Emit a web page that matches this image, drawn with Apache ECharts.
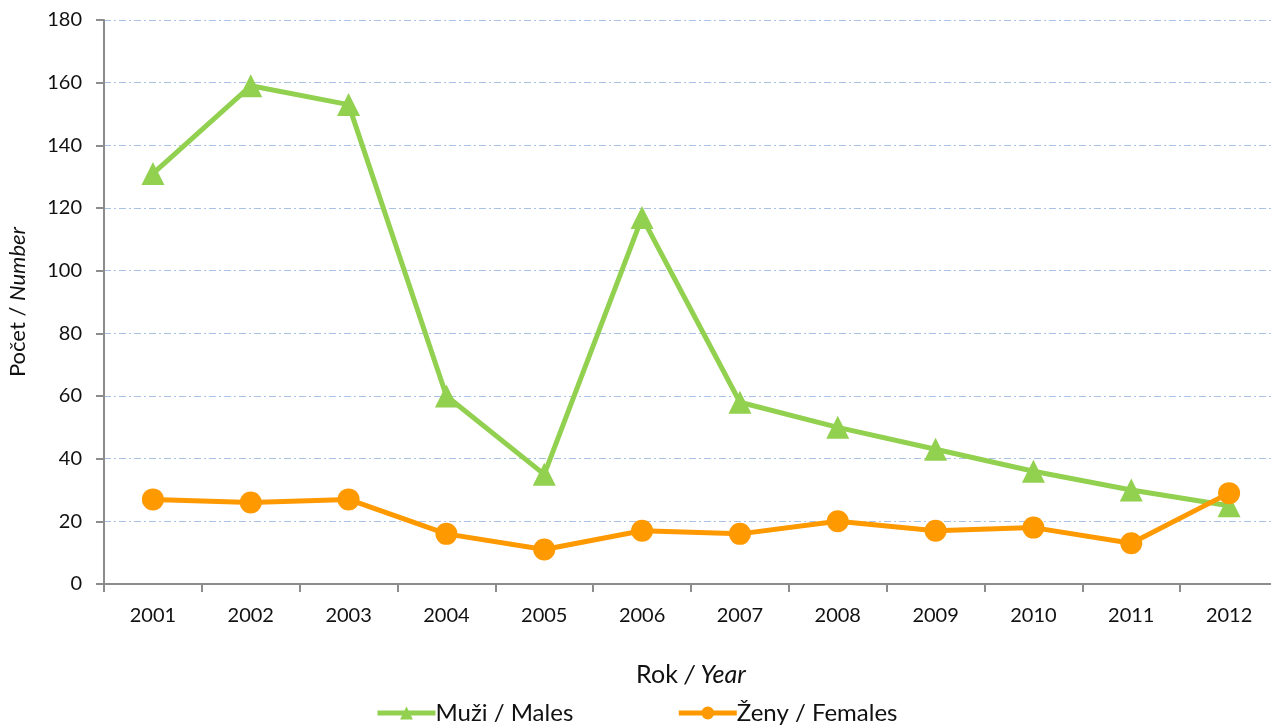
<!DOCTYPE html>
<html>
<head>
<meta charset="utf-8">
<script src="https://cdn.jsdelivr.net/npm/echarts@6/dist/echarts.min.js"></script>
<style>
  html, body { margin: 0; padding: 0; background: #fff; }
  #chart { width: 1271px; height: 727px; }
</style>
</head>
<body>
<div id="chart"></div>
<script>
const years = ["2001", "2002", "2003", "2004", "2005", "2006", "2007", "2008", "2009", "2010", "2011", "2012"];
const males = [131, 159, 153, 60, 35, 117, 58, 50, 43, 36, 30, 25];
const females = [27, 26, 27, 16, 11, 17, 16, 20, 17, 18, 13, 29];

const font = "Lato";
const chart = echarts.init(document.getElementById("chart"));

chart.setOption({
  animation: false,
  textStyle: { fontFamily: font },
  grid: { left: 104, top: 20, width: 1174, bottom: 143, outerBoundsMode: "none" },
  legend: {
    bottom: -3,
    left: 370,
    itemWidth: 58,
    itemHeight: 16,
    itemGap: 103,
    lineStyle: { width: 5 },
    textStyle: { fontSize: 24, color: "#111", fontFamily: font, padding: [0, 0, 0, -5] },
    data: ["Muži / Males", "Ženy / Females"]
  },
  xAxis: {
    type: "category",
    data: years,
    boundaryGap: true,
    name: "{n|Rok }{i|/ Year}",
    nameLocation: "middle",
    nameGap: 78,
    nameTextStyle: {
      rich: {
        n: { fontSize: 25, color: "#111", fontFamily: font },
        i: { fontSize: 25, color: "#111", fontFamily: font, fontStyle: "italic" }
      }
    },
    axisLine: { lineStyle: { color: "#8c8c8c", width: 2 } },
    axisTick: { show: true, length: 8, lineStyle: { color: "#8c8c8c", width: 2 } },
    axisLabel: { fontSize: 20, color: "#111", margin: 22 }
  },
  yAxis: {
    type: "value",
    min: 0,
    max: 180,
    interval: 20,
    name: "{n|Počet / }{i|Number}",
    nameLocation: "middle",
    nameGap: 75,
    nameTextStyle: {
      rich: {
        n: { fontSize: 22, color: "#111", fontFamily: font },
        i: { fontSize: 22, color: "#111", fontFamily: font, fontStyle: "italic" }
      }
    },
    axisLine: { show: true, lineStyle: { color: "#8c8c8c", width: 2 } },
    axisTick: { show: true, length: 8, lineStyle: { color: "#8c8c8c", width: 2 } },
    axisLabel: { fontSize: 20, color: "#111", margin: 22 },
    splitLine: {
      lineStyle: { color: "#a9c1e2", width: 1, type: [7, 3, 2, 3] }
    }
  },
  series: [
    {
      name: "Muži / Males",
      type: "line",
      data: males,
      symbol: "triangle",
      symbolSize: 23,
      lineStyle: { color: "#92d050", width: 5 },
      itemStyle: { color: "#92d050" },
      z: 2
    },
    {
      name: "Ženy / Females",
      type: "line",
      data: females,
      symbol: "circle",
      symbolSize: 22,
      lineStyle: { color: "#ff9900", width: 5 },
      itemStyle: { color: "#ff9900" },
      z: 3
    }
  ]
});
</script>
</body>
</html>
